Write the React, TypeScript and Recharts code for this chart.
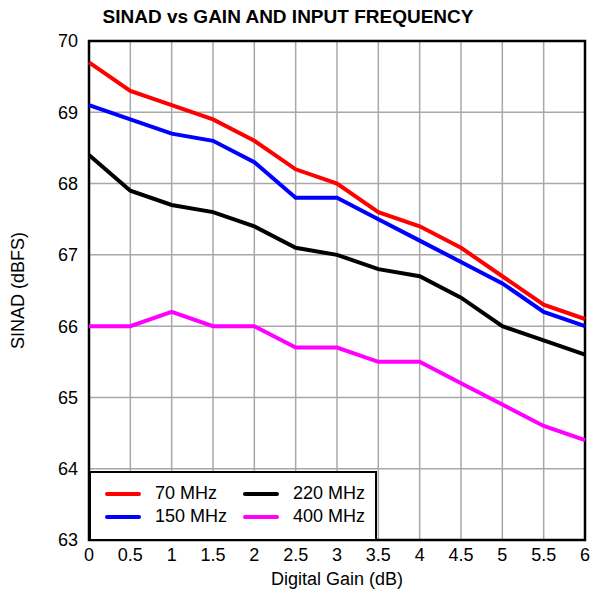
import {
  CartesianGrid,
  Label,
  Legend,
  Line,
  LineChart,
  ReferenceArea,
  XAxis,
  YAxis,
} from "recharts";

const gains = [0, 0.5, 1, 1.5, 2, 2.5, 3, 3.5, 4, 4.5, 5, 5.5, 6];
const sinad70 = [69.7, 69.3, 69.1, 68.9, 68.6, 68.2, 68.0, 67.6, 67.4, 67.1, 66.7, 66.3, 66.1];
const sinad150 = [69.1, 68.9, 68.7, 68.6, 68.3, 67.8, 67.8, 67.5, 67.2, 66.9, 66.6, 66.2, 66.0];
const sinad220 = [68.4, 67.9, 67.7, 67.6, 67.4, 67.1, 67.0, 66.8, 66.7, 66.4, 66.0, 65.8, 65.6];
const sinad400 = [66.0, 66.0, 66.2, 66.0, 66.0, 65.7, 65.7, 65.5, 65.5, 65.2, 64.9, 64.6, 64.4];
const yTicks = [63, 64, 65, 66, 67, 68, 69, 70];

const series = [
  { key: "f70", name: "70 MHz", color: "#ff0000", values: sinad70 },
  { key: "f150", name: "150 MHz", color: "#0000ff", values: sinad150 },
  { key: "f220", name: "220 MHz", color: "#000000", values: sinad220 },
  { key: "f400", name: "400 MHz", color: "#ff00ff", values: sinad400 },
];

const FONT = '"Liberation Sans", Arial, sans-serif';
const FS = 18;

function montarDados() {
  return gains.map((g, i) => {
    const row: Record<string, number> = { gain: g };
    series.forEach((s) => {
      row[s.key] = s.values[i];
    });
    return row;
  });
}

// legenda em caixa, duas colunas (70/150 à esquerda, 220/400 à direita)
function LegendaCaixa() {
  const item = (s: (typeof series)[number]) => (
    <div key={s.key} style={{ display: "flex", alignItems: "center", height: 23 }}>
      <div style={{ width: 36, height: 4, background: s.color, borderRadius: 2, marginRight: 14 }} />
      <span>{s.name}</span>
    </div>
  );
  return (
    <div
      style={{
        boxSizing: "border-box",
        width: 288,
        height: 70,
        background: "#fff",
        border: "2px solid #000",
        display: "flex",
        paddingLeft: 14,
        paddingTop: 9,
        fontFamily: FONT,
        fontSize: FS,
        color: "#000",
      }}
    >
      <div style={{ width: 138 }}>{[series[0], series[1]].map(item)}</div>
      <div>{[series[2], series[3]].map(item)}</div>
    </div>
  );
}

export default function App() {
  const dados = montarDados();

  return (
    <div style={{ position: "absolute", left: 0, top: 0, width: 591, height: 595, background: "#fff" }}>
      <div
        style={{
          position: "absolute",
          left: 0,
          width: 576,
          top: 6,
          textAlign: "center",
          fontFamily: FONT,
          fontWeight: "bold",
          fontSize: 19,
          color: "#000",
        }}
      >
        SINAD vs GAIN AND INPUT FREQUENCY
      </div>
      <LineChart
        width={591}
        height={595}
        data={dados}
        margin={{ top: 41, right: 6, bottom: 0, left: 0 }}
        style={{ fontFamily: FONT }}
      >
        <CartesianGrid stroke="#a8a8a8" strokeWidth={1.5} />
        <XAxis
          dataKey="gain"
          type="number"
          domain={[0, 6]}
          ticks={gains}
          height={55}
          tickLine={false}
          axisLine={false}
          tick={{ fill: "#000", fontSize: FS }}
        >
          <Label value="Digital Gain (dB)" position="insideBottom" offset={10} fill="#000" fontSize={FS} />
        </XAxis>
        <YAxis
          type="number"
          domain={[63, 70]}
          ticks={yTicks}
          width={89}
          tickLine={false}
          axisLine={false}
          tickMargin={5}
          tick={{ fill: "#000", fontSize: FS }}
        >
          <Label
            content={({ viewBox }: any) => (
              <text
                x={viewBox.x + 24}
                y={viewBox.y + viewBox.height / 2}
                transform={`rotate(-90 ${viewBox.x + 24} ${viewBox.y + viewBox.height / 2})`}
                textAnchor="middle"
                fontSize={FS}
                fill="#000"
              >
                SINAD (dBFS)
              </text>
            )}
          />
        </YAxis>
        <ReferenceArea x1={0} x2={6} y1={63} y2={70} stroke="#000" strokeWidth={2.5} fill="none" />
        {series.map((s) => (
          <Line
            key={s.key}
            type="linear"
            dataKey={s.key}
            name={s.name}
            stroke={s.color}
            strokeWidth={4}
            dot={false}
            activeDot={false}
            isAnimationActive={false}
          />
        ))}
        <Legend
          layout="horizontal"
          verticalAlign="middle"
          align="center"
          content={() => <LegendaCaixa />}
          wrapperStyle={{ position: "absolute", left: 89, top: 471, width: 288, height: 70 }}
        />
      </LineChart>
    </div>
  );
}
